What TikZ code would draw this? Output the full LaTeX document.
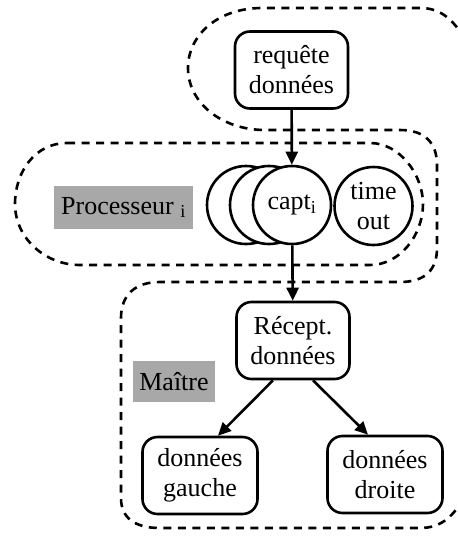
\documentclass[tikz,border=0pt]{standalone}
\usepackage{fontspec}
\setmainfont{Liberation Serif}
\usetikzlibrary{arrows.meta}
\definecolor{labelgray}{RGB}{168,168,168}
\tikzset{
  zone/.style={line width=2.6pt, dash pattern=on 8pt off 6.5pt},
  box/.style={draw, line width=2.6pt, rounded corners=15pt, fill=white,
    minimum width=113pt, minimum height=77pt, inner sep=0pt, align=center},
  proc/.style={draw, circle, line width=2.6pt, fill=white,
    minimum size=78pt, inner sep=0pt, align=center},
  tag/.style={fill=labelgray, inner sep=0pt},
  arr/.style={line width=2.6pt, -{Triangle[length=13pt,width=12pt]}}
}
\begin{document}
\begin{tikzpicture}[x=1pt, y=-1pt, font=\fontsize{26}{30}\selectfont]
\useasboundingbox (0,0) rectangle (458,536);

% outline running from the request zone down around the master zone
\draw[zone] (472,52) .. controls (455,18) and (440,8) .. (420,8)
  -- (262,8) .. controls (218,8) and (188,35) .. (188,68)
  .. controls (188,103) and (222,130) .. (265,130)
  -- (400,130) .. controls (425,130) and (437,143) .. (437,165)
  -- (437,248) .. controls (437,270) and (425,282) .. (400,282)
  -- (160,282) .. controls (135,282) and (121,295) .. (121,318)
  -- (121,498) .. controls (121,518) and (135,528) .. (160,528)
  -- (420,528) .. controls (440,528) and (452,518) .. (464,498);

% processor zone
\draw[zone] (67,143) -- (370,143)
  .. controls (400,143) and (423,175) .. (423,204)
  .. controls (423,235) and (400,265) .. (370,265)
  -- (80,265) .. controls (45,265) and (15,238) .. (15,204)
  .. controls (15,172) and (35,143) .. (67,143) -- cycle;

% zone labels
\node[tag, minimum width=139pt, minimum height=43pt] (proclabel) at (123.5,207.5)
  {Processeur \textsubscript{i}};
\node[tag, minimum width=82pt, minimum height=41pt] (mlabel) at (174,381.5) {Maître};

% nodes
\node[box] (req) at (291.5,70) {requête\\données};
\node[proc] (c1) at (246,205) {};
\node[proc] (c2) at (269,205) {};
\node[proc] (capt) at (292,205) {capt\textsubscript{i}};
\node[proc] (tout) at (373.5,206) {time\\out};
\node[box] (recept) at (293,340.5) {Récept.\\données};
\node[box, minimum width=115pt] (gauche) at (200,475.5) {données\\gauche};
\node[box, minimum width=115pt] (droite) at (385,474.5) {données\\droite};

% connectors
\draw[arr] (req) -- (capt);
\draw[arr] (capt) -- (recept);
\draw[arr] ([xshift=-20pt]recept.south) -- ([xshift=18pt]gauche.north);
\draw[arr] ([xshift=20pt]recept.south) -- ([xshift=-17pt]droite.north);
\end{tikzpicture}
\end{document}
